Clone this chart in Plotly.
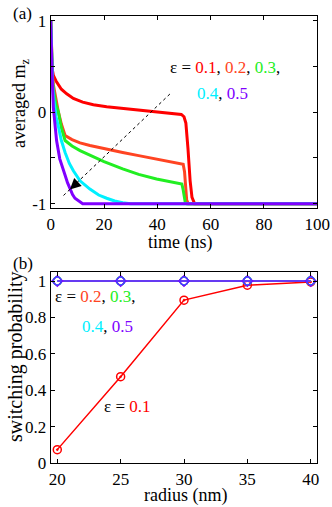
import plotly.graph_objects as go

# ---------------- data: panel (a) ----------------
t_01 = [0, 0.3, 0.7, 1, 2, 3, 4, 6, 8.5, 12, 16, 21, 26, 31, 36, 40, 44, 47, 49, 50, 50.7, 51.5, 52.3, 53, 54, 60, 70, 80, 90, 100]
m_01 = [1, 0.6, 0.45, 0.40, 0.34, 0.29, 0.25, 0.20, 0.15, 0.11, 0.08, 0.06, 0.045, 0.03, 0.01, 0.0, -0.01, -0.015, -0.025, -0.05, -0.12, -0.4, -0.75, -0.93, -1.0, -1.0, -1.0, -1.0, -1.0, -1.0]

t_02 = [0, 0.3, 0.7, 1, 2, 2.9, 4, 5.4, 8, 11, 14.7, 20, 27, 33, 39.7, 45, 49.7, 50.2, 50.6, 51, 51.6, 55, 60, 70, 80, 90, 100]
m_02 = [1, 0.65, 0.4, 0.3, 0.12, 0.0, -0.13, -0.255, -0.30, -0.335, -0.365, -0.40, -0.44, -0.475, -0.51, -0.54, -0.57, -0.65, -0.85, -0.96, -1.0, -1.0, -1.0, -1.0, -1.0, -1.0, -1.0]

t_03 = [0, 0.3, 0.7, 1, 2, 2.9, 4, 5.4, 8, 11, 14.7, 20, 27, 33, 39.7, 45, 49.2, 49.7, 50.1, 50.5, 51, 55, 60, 70, 80, 90, 100]
m_03 = [1, 0.6, 0.35, 0.25, 0.08, 0.0, -0.17, -0.31, -0.37, -0.42, -0.47, -0.54, -0.62, -0.68, -0.73, -0.76, -0.785, -0.85, -0.95, -0.99, -1.0, -1.0, -1.0, -1.0, -1.0, -1.0, -1.0]

t_04 = [0, 0.3, 0.7, 1.2, 2, 2.9, 4, 5.4, 7, 8.5, 11, 14.7, 18, 21, 24, 27, 30, 40, 50, 60, 70, 80, 90, 100]
m_04 = [1, 0.6, 0.3, 0.13, -0.05, -0.16, -0.31, -0.44, -0.56, -0.64, -0.75, -0.84, -0.905, -0.94, -0.97, -0.99, -1.0, -1.0, -1.0, -1.0, -1.0, -1.0, -1.0, -1.0]

t_05 = [0, 0.3, 0.6, 1, 1.5, 2.2, 3.4, 4.4, 5.4, 6.3, 7.2, 8.2, 9.1, 10, 11, 12, 20, 30, 40, 50, 60, 70, 80, 90, 100]
m_05 = [1, 0.6, 0.35, 0.05, -0.12, -0.31, -0.51, -0.61, -0.69, -0.77, -0.84, -0.90, -0.94, -0.96, -0.98, -1.0, -1.0, -1.0, -1.0, -1.0, -1.0, -1.0, -1.0, -1.0, -1.0]

# dashed guide line and arrow (data coordinates)
guide_t = [4.8, 45.5]
guide_m = [-0.91, 0.22]

# ---------------- data: panel (b) ----------------
radius = [20, 25, 30, 35, 40]
p_01 = [0.075, 0.475, 0.895, 0.977, 0.995]
p_02 = [1, 1, 1, 1, 1]
p_03 = [1, 1, 1, 1, 1]
p_04 = [1, 1, 1, 1, 1]
p_05 = [1, 1, 1, 1, 1]

a_yticks = [-1, -0.5, 0, 0.5, 1]
a_yticktext = ["-1", "", "0", "", "1"]
a_xticks = [0, 20, 40, 60, 80, 100]
b_xticks = [20, 25, 30, 35, 40]
b_yticks = [0, 0.2, 0.4, 0.6, 0.8, 1]
b_yticktext = ["0", "0.2", "0.4", "0.6", "0.8", "1"]

C1 = "#ff0000"
C2 = "#ff4422"
C3 = "#22ee22"
C4 = "#00f0ff"
C5 = "#8000ff"

W, H = 332, 507
FONT = "'Liberation Serif', 'Times New Roman', 'DejaVu Serif', serif"

fig = go.Figure()

for t, m, c in [(t_01, m_01, C1), (t_02, m_02, C2), (t_03, m_03, C3), (t_04, m_04, C4), (t_05, m_05, C5)]:
    fig.add_trace(go.Scatter(x=t, y=m, mode="lines", line=dict(color=c, width=3),
                             xaxis="x", yaxis="y", showlegend=False))

fig.add_trace(go.Scatter(x=guide_t, y=guide_m, mode="lines",
                         line=dict(color="black", width=1, dash="3px,3px"),
                         xaxis="x", yaxis="y", showlegend=False))

# panel b
fig.add_trace(go.Scatter(x=radius, y=p_01, mode="lines+markers",
                         line=dict(color=C1, width=1.5),
                         marker=dict(symbol="circle-dot", size=8, color="rgba(0,0,0,0)",
                                     line=dict(color=C1, width=1.5)),
                         xaxis="x2", yaxis="y2", showlegend=False))
for p, c, sym in [(p_02, C2, "circle-open"), (p_03, C3, "circle-open"),
                  (p_04, C4, "circle-open"), (p_05, C5, "diamond-open")]:
    fig.add_trace(go.Scatter(x=radius, y=p, mode="lines+markers",
                             line=dict(color=c, width=1.5),
                             marker=dict(symbol=sym, size=8, color=c, line=dict(color=c, width=1.5)),
                             xaxis="x2", yaxis="y2", showlegend=False))
fig.add_trace(go.Scatter(x=radius, y=p_05, mode="markers",
                         marker=dict(symbol="circle-open", size=8, color="#4040ff",
                                     line=dict(color="#4040ff", width=1.2)),
                         xaxis="x2", yaxis="y2", showlegend=False))

axis_common = dict(showline=True, linecolor="black", linewidth=1, mirror="allticks",
                   ticks="inside", ticklen=4, tickcolor="black", showgrid=False, zeroline=False,
                   automargin=False,
                   tickfont=dict(family=FONT, size=17, color="black"))

fig.update_layout(
    width=W, height=H, margin=dict(l=0, r=0, t=0, b=0, autoexpand=False),
    paper_bgcolor="white", plot_bgcolor="white",
    font=dict(family=FONT, size=17, color="black"),
    xaxis=dict(domain=[50.7 / W, 317.3 / W], range=[0, 100], tickvals=a_xticks,
               anchor="y", **axis_common),
    yaxis=dict(domain=[1 - 208.3 / H, 1 - 16 / H], range=[-1.05, 1.05], tickvals=a_yticks,
               ticktext=a_yticktext, anchor="x", **axis_common),
    xaxis2=dict(domain=[50.7 / W, 317.3 / W], range=[19.48, 40.52], tickvals=b_xticks,
                anchor="y2", **axis_common),
    yaxis2=dict(domain=[1 - 463.3 / H, 1 - 271.7 / H], range=[0, 1.051], tickvals=b_yticks,
                ticktext=b_yticktext, anchor="x2", **axis_common),
)

def paper_text(txt, px, py, angle=0, size=17, xanchor="center"):
    fig.add_annotation(text=txt, x=px / W, y=1 - py / H, xref="paper", yref="paper",
                       showarrow=False, textangle=angle, xanchor=xanchor, yanchor="middle",
                       font=dict(family=FONT, size=size, color="black"))

paper_text("(a)", 22.5, 13)
paper_text("(b)", 22.5, 263)
paper_text("time (ns)", 180, 242, size=18)
paper_text("radius (nm)", 185, 495, size=18)
paper_text("averaged m<sub>z</sub>", 21, 104, angle=-90, size=18)
paper_text("switching probability", 15, 357, angle=-90, size=20)

def sp(txt, c):
    return f'<span style="color:{c}">{txt}</span>'

def data_text(txt, x, y, xr, yr):
    fig.add_annotation(text=txt, x=x, y=y, xref=xr, yref=yr, showarrow=False,
                       xanchor="left", yanchor="middle",
                       font=dict(family=FONT, size=17, color="black"))

data_text("ε = " + sp("0.1", C1) + ", " + sp("0.2", C2) + ", " + sp("0.3", C3) + ",", 44, 0.49, "x", "y")
data_text(sp("0.4", C4) + ", " + sp("0.5", C5), 54.1, 0.205, "x", "y")
data_text("ε = " + sp("0.2", C2) + ", " + sp("0.3", C3) + ",", 19.66, 0.914, "x2", "y2")
data_text(sp("0.4", C4) + ", " + sp("0.5", C5), 21.8, 0.748, "x2", "y2")
data_text("ε = " + sp("0.1", C1), 23.53, 0.31, "x2", "y2")

# arrow head on the dashed guide
fig.add_annotation(x=7.2, y=-0.845, ax=10.5, ay=-0.755, xref="x", yref="y", axref="x", ayref="y",
                   showarrow=True, arrowhead=2, arrowsize=2.2, arrowwidth=1, arrowcolor="black", text="")

fig.write_html("out.html", config={"displayModeBar": False},
               post_script="document.body.style.margin='0px';document.body.style.overflow='hidden';")
